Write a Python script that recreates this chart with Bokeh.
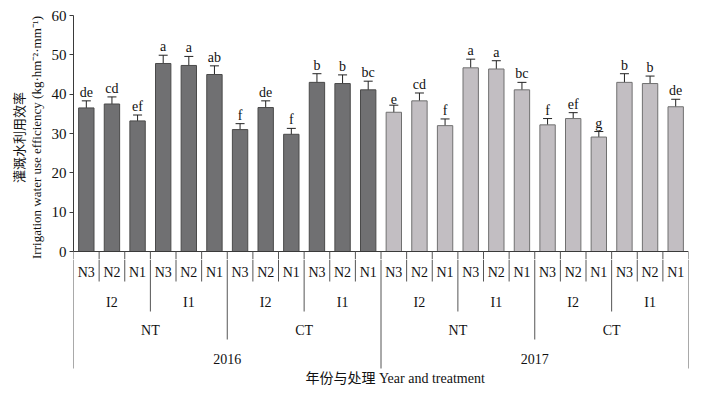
from bokeh.plotting import figure
from bokeh.layouts import column
from bokeh.models import ColumnDataSource, Range1d, Whisker, TeeHead, SingleIntervalTicker
from bokeh.core.properties import value
from bokeh.embed import file_html
from bokeh.resources import INLINE

# ---------------- data ----------------
years = ["2016", "2017"]
tillage = ["NT", "CT"]
irrigation = ["I2", "I1"]
nitrogen = ["N3", "N2", "N1"]

iwue_2016 = [36.5, 37.5, 33.2, 47.8, 47.3, 45.0, 31.0, 36.6, 29.8, 43.0, 42.7, 41.1]
err_2016 = [1.8, 1.8, 1.5, 2.1, 2.3, 2.2, 1.5, 1.7, 1.5, 2.2, 2.2, 2.2]
letters_2016 = ["de", "cd", "ef", "a", "a", "ab", "f", "de", "f", "b", "b", "bc"]

iwue_2017 = [35.4, 38.3, 32.0, 46.7, 46.4, 41.1, 32.2, 33.8, 29.1, 43.0, 42.7, 36.8]
err_2017 = [1.8, 2.0, 1.7, 2.2, 2.1, 1.9, 1.6, 1.5, 1.4, 2.2, 1.9, 1.9]
letters_2017 = ["e", "cd", "f", "a", "a", "bc", "f", "ef", "g", "b", "b", "de"]

y_ticks_interval = 10
y_max = 60

# ---------------- styles ----------------
year_fill = {"2016": "#707072", "2017": "#c2bec2"}
year_line = {"2016": "#4a4a4a", "2017": "#707070"}
SERIF = "Liberation Serif"
MIXED = "Liberation Serif, Noto Sans CJK SC"
AX = "#3a3a3a"
DIV = "#555555"

FRAME_PX = 236          # pixel height of 0..y_max
EXTRA_PX = 8            # frame extension below zero (room for the "0" label)
y_start = -EXTRA_PX * y_max / FRAME_PX

vals = {"2016": (iwue_2016, err_2016, letters_2016), "2017": (iwue_2017, err_2017, letters_2017)}

xs, tops, ups, lows, lets, fills, lines, nlab = [], [], [], [], [], [], [], []
i = 0
for y in years:
    v, e, l = vals[y]
    k = 0
    for t in tillage:
        for ir in irrigation:
            for n in nitrogen:
                xs.append(i + 0.5)
                tops.append(v[k])
                ups.append(v[k] + e[k])
                lows.append(v[k] - e[k])
                lets.append(l[k])
                fills.append(year_fill[y])
                lines.append(year_line[y])
                nlab.append(n)
                k += 1
                i += 1
ncat = i

src = ColumnDataSource(dict(x=xs, top=tops, upper=ups, lower=lows, letter=lets,
                            fill=fills, line=lines, n=nlab))

n_n = len(nitrogen)
n_i = n_n * len(irrigation)
n_t = n_i * len(tillage)

# ---------------- top figure ----------------
p = figure(width=698, height=15 + FRAME_PX + EXTRA_PX, x_range=Range1d(0, ncat),
           y_range=Range1d(y_start, y_max),
           output_backend="svg", toolbar_location=None, x_axis_location=None,
           min_border_left=73, min_border_right=10, min_border_top=15, min_border_bottom=0)
p.outline_line_color = None
p.grid.visible = False

p.vbar(x="x", top="top", bottom=0, width=0.6, source=src, fill_color="fill", line_color="line", line_width=1)
w = Whisker(base="x", upper="upper", lower="lower", source=src, line_color="#222222", line_width=1,
            upper_head=TeeHead(size=9, line_color="#222222", line_width=1),
            lower_head=TeeHead(size=9, line_color="#222222", line_width=1))
p.add_layout(w)
p.text(x="x", y="upper", text="letter", source=src, text_align="center", text_baseline="bottom",
       y_offset=-1, text_font=value(SERIF), text_font_size="14px", text_color="#111111")

# baseline and first part of dividers
p.segment(x0=[0], x1=[ncat], y0=[0], y1=[0], line_color=AX, line_width=1)
bx = list(range(ncat + 1))
p.segment(x0=bx, x1=bx, y0=[0] * len(bx), y1=[y_start] * len(bx), line_color=DIV, line_width=1)

ya = p.yaxis[0]
ya.bounds = (0, y_max)
ya.ticker = SingleIntervalTicker(interval=y_ticks_interval, num_minor_ticks=0)
ya.minor_tick_line_color = None
ya.major_tick_in = 0
ya.major_tick_out = 4
ya.major_label_standoff = 3
ya.axis_line_color = AX
ya.major_tick_line_color = AX
ya.major_label_text_font = SERIF
ya.major_label_text_font_size = "15px"
ya.major_label_text_color = "#111111"
ya.axis_label = "灌溉水利用效率\nIrrigation water use efficiency (kg·hm⁻²·mm⁻¹)"
ya.axis_label_text_font = MIXED
ya.axis_label_text_font_style = "normal"
ya.axis_label_text_font_size = "13px"
ya.axis_label_text_line_height = 1.1
ya.axis_label_text_color = "#111111"
ya.axis_label_standoff = 5

# ---------------- bottom (hierarchical category axis) ----------------
BOT_PX = 126
q = figure(width=698, height=BOT_PX, x_range=p.x_range, y_range=Range1d(-BOT_PX, 0),
           output_backend="svg", toolbar_location=None, x_axis_location=None, y_axis_location=None,
           min_border_left=73, min_border_right=10, min_border_top=0, min_border_bottom=0)
q.outline_line_color = None
q.grid.visible = False

dx, dy0, dy1 = [], [], []
for b in range(ncat + 1):
    if b % n_t == 0:
        d = -109
    elif b % n_i == 0:
        d = -80
    elif b % n_n == 0:
        d = -52
    else:
        d = -22
    dx.append(b)
    dy0.append(0)
    dy1.append(d)
q.segment(x0=dx, x1=dx, y0=dy0, y1=dy1, line_color=DIV, line_width=1)

lab_x, lab_y, lab_t = [], [], []
for k in range(ncat):
    lab_x.append(xs[k]); lab_y.append(-13); lab_t.append(nlab[k])
c = 0
for y in years:
    for t in tillage:
        for ir in irrigation:
            lab_x.append(c + n_n / 2); lab_y.append(-43); lab_t.append(ir)
            c += n_n
c = 0
for y in years:
    for t in tillage:
        lab_x.append(c + n_i / 2); lab_y.append(-71); lab_t.append(t)
        c += n_i
c = 0
for y in years:
    lab_x.append(c + n_t / 2); lab_y.append(-99); lab_t.append(y)
    c += n_t

q.text(x=lab_x, y=lab_y, text=lab_t, text_align="center", text_baseline="middle",
       text_font=value(SERIF), text_font_size="14px", text_color="#111111")

q.text(x=[ncat / 2 + 0.55], y=[-119], text=["年份与处理 Year and treatment"], text_align="center",
       text_baseline="middle", text_font=value(MIXED), text_font_size="14px", text_color="#111111")

layout = column(p, q, spacing=0)
open("out.html", "w").write(file_html(layout, INLINE))
